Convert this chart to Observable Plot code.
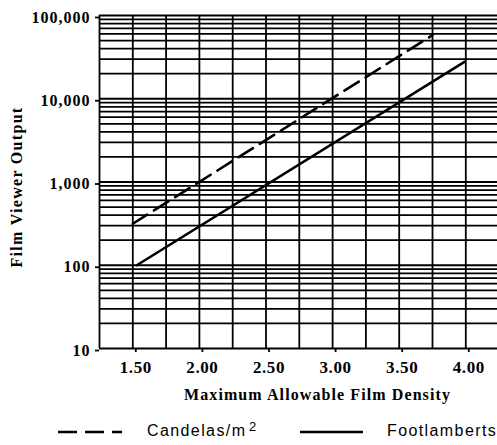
<!DOCTYPE html>
<html>
<head>
<meta charset="utf-8">
<script src="https://cdn.jsdelivr.net/npm/d3@7"></script>
<script src="https://cdn.jsdelivr.net/npm/@observablehq/plot@0.6"></script>
<style>
  html, body { margin: 0; padding: 0; background: #fff; }
  #wrap { position: relative; width: 497px; height: 445px; overflow: hidden; }
  #legend { position: absolute; left: 0; top: 410px; width: 497px; height: 35px;
            font-family: "Liberation Sans", Arial, sans-serif; font-size: 16px; letter-spacing: 1.4px; color: #000; }
  #legend .t { position: absolute; top: 13px; line-height: 16px; white-space: nowrap; }
  #legend svg { position: absolute; }
</style>
</head>
<body>
<div id="wrap">
  <div id="chart"></div>
  <div id="legend">
    <svg style="left:56px; top:19px" width="66" height="6"><line x1="2" y1="3" x2="66" y2="3" stroke="#000" stroke-width="2.6" stroke-dasharray="19,8"/></svg>
    <span class="t" style="left:147px">Candelas/m</span>
    <span class="t" style="left:249px; top:9px; font-size:13px">2</span>
    <svg style="left:300px; top:19px" width="64" height="6"><line x1="0" y1="3" x2="63" y2="3" stroke="#000" stroke-width="2.6"/></svg>
    <span class="t" style="left:387px">Footlamberts</span>
  </div>
</div>
<script>
// ---- data ----
const candelaDensity = [1.50, 3.75];
const candelaValues = [315, 58000];
const footlambertDensity = [1.53, 3.99];
const footlambertValues = [100, 27800];

const xTicks = [1.5, 2.0, 2.5, 3.0, 3.5, 4.0];
const xTickLabels = ["1.50", "2.00", "2.50", "3.00", "3.50", "4.00"];
const xGrid = [1.25, 1.5, 1.75, 2.0, 2.25, 2.5, 2.75, 3.0, 3.25, 3.5, 3.75, 4.0];
const yTicks = [10, 100, 1000, 10000, 100000];
const yTickLabels = ["10", "100", "1,000", "10,000", "100,000"];
const decades = [10, 100, 1000, 10000];
const multipliers = [1, 2, 3, 4, 5, 6, 7, 8, 9];

const xLabel = "Maximum Allowable Film Density";
const yLabel = "Film Viewer Output";

// ---- tables ----
const yGrid = decades.flatMap(d => multipliers.map(m => d * m)).concat([100000]);
const candela = candelaDensity.map((d, i) => ({density: d, value: candelaValues[i]}));
const footlambert = footlambertDensity.map((d, i) => ({density: d, value: footlambertValues[i]}));

const serif = "'Liberation Serif', 'Times New Roman', serif";

const chart = Plot.plot({
  width: 497,
  height: 410,
  marginLeft: 99,
  marginRight: 0,
  marginTop: 15,
  marginBottom: 62,
  style: {fontFamily: serif, fontWeight: "bold", fontSize: "16px", color: "#000", background: "#fff"},
  x: {domain: [1.25, 4.238]},
  y: {type: "log", domain: [10, 100000]},
  marks: [
    Plot.gridY(yGrid, {stroke: "#000", strokeOpacity: 1, strokeWidth: 1.8}),
    Plot.gridX(xGrid, {stroke: "#000", strokeOpacity: 1, strokeWidth: 1.8}),
    Plot.axisY(yTicks, {
      tickFormat: d => yTickLabels[yTicks.indexOf(d)],
      tickSize: 4, tickPadding: 5, strokeWidth: 1.8, label: null,
      fontSize: 16, fontWeight: "bold", dy: 2
    }),
    Plot.axisX(xTicks, {
      tickFormat: d => xTickLabels[xTicks.indexOf(d)],
      tickSize: 4, tickPadding: 8, strokeWidth: 1.8, label: null,
      fontSize: 17, fontWeight: "bold", dx: 3
    }),
    Plot.line(candela, {x: "density", y: "value", stroke: "#000", strokeWidth: 2.6, strokeDasharray: "17,8"}),
    Plot.line(footlambert, {x: "density", y: "value", stroke: "#000", strokeWidth: 2.6}),
    Plot.text([xLabel], {text: d => d, frameAnchor: "bottom", textAnchor: "middle", dx: 19, dy: 51, fontSize: 16, fontWeight: "bold", fontFamily: serif, fill: "#000"}),
    Plot.text([yLabel], {text: d => d, frameAnchor: "left", textAnchor: "middle", lineAnchor: "middle", rotate: -90, dx: -83, dy: 5, fontSize: 16, fontWeight: "bold", fontFamily: serif, fill: "#000"})
  ]
});
document.getElementById("chart").appendChild(chart);

// stretch the scanned-looking text to the widths seen in the reference
function fitText(node, target) {
  const len = node.getComputedTextLength();
  const n = node.textContent.length;
  if (n > 1 && len < target) node.style.letterSpacing = ((target - len) / n) + "px";
}
d3.select(chart).selectAll("text").each(function() {
  const t = this.textContent;
  if (t === xLabel) fitText(this, 267);
  else if (t === yLabel) fitText(this, 161);
  else if (yTickLabels.includes(t)) this.style.letterSpacing = "1px";
  else if (xTickLabels.includes(t)) this.style.letterSpacing = "0.6px";
});
</script>
</body>
</html>
